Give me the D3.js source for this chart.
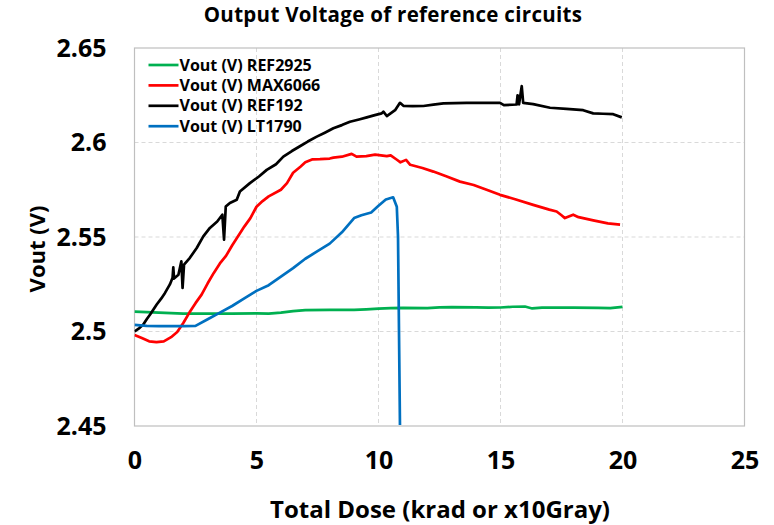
<!DOCTYPE html>
<html>
<head>
<meta charset="utf-8">
<script src="https://cdn.jsdelivr.net/npm/d3@7"></script>
<style>
  body { margin: 0; background: #fff; }
  svg text { font-family: "Open Sans", sans-serif; font-weight: bold; fill: #000; }
</style>
</head>
<body>
<div id="chart"></div>
<script>
// series names and colours, in legend order
const seriesNames = ["Vout (V) REF2925", "Vout (V) MAX6066", "Vout (V) REF192", "Vout (V) LT1790"];
const seriesColors = ["#00b050", "#ff0000", "#000000", "#0070c0"];

const xTicks = [0, 5, 10, 15, 20, 25];
const yTicks = [2.45, 2.5, 2.55, 2.6, 2.65];

// dose (krad) / voltage pairs
const ref2925Dose = [0, 0.5, 1, 1.5, 2, 3, 4, 5, 5.5, 6, 6.5, 7, 8, 9, 9.5, 10, 10.5, 11, 12, 12.5, 13, 14, 14.5, 15, 15.5, 16, 16.3, 16.7, 17.5, 18, 19, 19.5, 20];
const ref2925Vout = [2.5105, 2.5103, 2.5100, 2.5097, 2.5095, 2.5095, 2.5095, 2.5096, 2.5095, 2.5100, 2.5108, 2.5113, 2.5114, 2.5114, 2.5117, 2.5121, 2.5124, 2.5125, 2.5124, 2.5128, 2.5129, 2.5128, 2.5126, 2.5127, 2.5131, 2.5132, 2.5122, 2.5126, 2.5127, 2.5126, 2.5125, 2.5124, 2.5130];

const max6066Dose = [0, 0.3, 0.6, 0.9, 1.2, 1.5, 1.75, 2, 2.25, 2.5, 2.75, 3, 3.25, 3.5, 3.75, 4, 4.25, 4.5, 4.75, 5, 5.25, 5.5, 6, 6.25, 6.5, 6.8, 7, 7.3, 7.6, 8, 8.15, 8.5, 8.9, 9.1, 9.5, 9.86, 10.1, 10.34, 10.5, 10.74, 10.9, 11.13, 11.3, 11.8, 12.25, 12.8, 13.34, 13.9, 14.43, 14.98, 15.6, 16.34, 17, 17.3, 17.5, 17.64, 17.98, 18.2, 18.8, 19.4, 19.9];
const max6066Vout = [2.4981, 2.4965, 2.4948, 2.4944, 2.4948, 2.4970, 2.4997, 2.5045, 2.5100, 2.5150, 2.5195, 2.5255, 2.5310, 2.5360, 2.5400, 2.5455, 2.5505, 2.5555, 2.5600, 2.5660, 2.5690, 2.5715, 2.5750, 2.5785, 2.5840, 2.5872, 2.5895, 2.5911, 2.5912, 2.5915, 2.5920, 2.5925, 2.5940, 2.5925, 2.5928, 2.5936, 2.5932, 2.5928, 2.5932, 2.5910, 2.5895, 2.5908, 2.5882, 2.5865, 2.5846, 2.5820, 2.5793, 2.5775, 2.5750, 2.5723, 2.5700, 2.5670, 2.5645, 2.5635, 2.5615, 2.5600, 2.5618, 2.5605, 2.5588, 2.5572, 2.5565];

const ref192Dose = [0, 0.2, 0.36, 0.5, 0.64, 0.91, 1.1, 1.25, 1.45, 1.56, 1.59, 1.62, 1.8, 1.92, 1.97, 2.03, 2.27, 2.55, 2.82, 3.09, 3.39, 3.6, 3.67, 3.74, 3.91, 4.19, 4.32, 4.73, 5.1, 5.42, 5.8, 6.1, 6.45, 6.78, 7.1, 7.47, 7.8, 8.15, 8.5, 8.83, 9.2, 9.52, 9.85, 10.13, 10.2, 10.34, 10.68, 10.88, 11.02, 11.4, 11.84, 12.25, 12.66, 13.61, 14.3, 14.98, 15.14, 15.66, 15.7, 15.76, 15.87, 15.93, 16.34, 17.03, 17.7, 18.39, 18.8, 19.2, 19.62, 19.97];
const ref192Vout = [2.5000, 2.5018, 2.5037, 2.5065, 2.5090, 2.5143, 2.5175, 2.5204, 2.5249, 2.5284, 2.5340, 2.5280, 2.5300, 2.5371, 2.5231, 2.5354, 2.5390, 2.5442, 2.5503, 2.5548, 2.5582, 2.5618, 2.5486, 2.5661, 2.5680, 2.5697, 2.5741, 2.5785, 2.5820, 2.5855, 2.5885, 2.5925, 2.5955, 2.5980, 2.6005, 2.6031, 2.6052, 2.6075, 2.6092, 2.6110, 2.6122, 2.6133, 2.6145, 2.6154, 2.6163, 2.6140, 2.6171, 2.6210, 2.6194, 2.6192, 2.6193, 2.6200, 2.6207, 2.6210, 2.6210, 2.6210, 2.6198, 2.6201, 2.6250, 2.6202, 2.6298, 2.6210, 2.6203, 2.6184, 2.6178, 2.6171, 2.6154, 2.6152, 2.6150, 2.6133];

const lt1790Dose = [0, 0.5, 1, 1.5, 2, 2.5, 3, 3.5, 4, 4.5, 5, 5.5, 6, 6.5, 7, 7.5, 8, 8.5, 9, 9.3, 9.7, 10, 10.3, 10.6, 10.75, 10.8, 10.88];
const lt1790Vout = [2.5035, 2.5030, 2.5028, 2.5028, 2.5028, 2.5030, 2.5065, 2.5100, 2.5135, 2.5175, 2.5215, 2.5245, 2.5290, 2.5335, 2.5385, 2.5425, 2.5465, 2.5525, 2.5600, 2.5615, 2.5630, 2.5665, 2.5698, 2.5710, 2.5660, 2.5500, 2.4505];

const doses = [ref2925Dose, max6066Dose, ref192Dose, lt1790Dose];
const vouts = [ref2925Vout, max6066Vout, ref192Vout, lt1790Vout];

const W = 774, H = 525;
const margin = {top: 48, right: 29.5, bottom: 99, left: 134.5};
const width = W - margin.left - margin.right;
const height = H - margin.top - margin.bottom;

const svg = d3.select("#chart").append("svg")
    .attr("width", W)
    .attr("height", H);

const g = svg.append("g")
    .attr("transform", `translate(${margin.left},${margin.top})`);

const x = d3.scaleLinear().domain([0, 25]).range([0, width]);
const y = d3.scaleLinear().domain([2.45, 2.65]).range([height, 0]);

// grid lines
g.append("g").selectAll("line.vgrid")
    .data(xTicks.slice(1, -1))
    .enter().append("line")
    .attr("x1", d => x(d)).attr("x2", d => x(d))
    .attr("y1", 0).attr("y2", height)
    .attr("stroke", "#d9d9d9").attr("stroke-width", 1)
    .attr("stroke-dasharray", "4,3");

g.append("g").selectAll("line.hgrid")
    .data(yTicks.slice(1, -1))
    .enter().append("line")
    .attr("x1", 0).attr("x2", width)
    .attr("y1", d => y(d)).attr("y2", d => y(d))
    .attr("stroke", "#d9d9d9").attr("stroke-width", 1)
    .attr("stroke-dasharray", "4,3");

// plot border
g.append("rect")
    .attr("width", width).attr("height", height)
    .attr("fill", "none")
    .attr("stroke", "#bfbfbf").attr("stroke-width", 1.2);

// axes (labels only, no domain/ticks)
const xAxis = g.append("g")
    .attr("transform", `translate(0,${height})`)
    .call(d3.axisBottom(x).tickValues(xTicks).tickSize(0).tickPadding(25).tickFormat(d3.format("d")));
xAxis.select(".domain").remove();
xAxis.selectAll("text").style("font-size", "25px").style("font-family", null);

const yAxis = g.append("g")
    .call(d3.axisLeft(y).tickValues(yTicks).tickSize(0).tickPadding(28).tickFormat(d => d3.format("")(+d.toFixed(2))));
yAxis.select(".domain").remove();
yAxis.selectAll("text").style("font-size", "25px").style("font-family", null);

// clip so the dropping line stays inside
g.append("clipPath").attr("id", "plotClip")
    .append("rect").attr("width", width).attr("height", height);

const line = d3.line()
    .x(d => x(d[0]))
    .y(d => y(d[1]));

seriesNames.forEach((name, i) => {
    const pts = doses[i].map((d, j) => [d, vouts[i][j]]);
    g.append("path")
        .datum(pts)
        .attr("clip-path", "url(#plotClip)")
        .attr("fill", "none")
        .attr("stroke", seriesColors[i])
        .attr("stroke-width", 2.7)
        .attr("stroke-linejoin", "round")
        .attr("d", line);
});

// legend
const legend = g.append("g").attr("transform", "translate(14,17)");
seriesNames.forEach((name, i) => {
    const row = legend.append("g").attr("transform", `translate(0,${i * 20.4})`);
    row.append("line")
        .attr("x1", 0).attr("x2", 30)
        .attr("stroke", seriesColors[i]).attr("stroke-width", 2.7);
    row.append("text")
        .attr("x", 31).attr("y", 5.5)
        .style("font-size", "16px")
        .text(name);
});

// titles
svg.append("text")
    .attr("x", 393).attr("y", 22)
    .attr("text-anchor", "middle")
    .style("font-size", "20.5px")
    .style("letter-spacing", "0.3px")
    .text("Output Voltage of reference circuits");

svg.append("text")
    .attr("x", 440).attr("y", 518)
    .attr("text-anchor", "middle")
    .style("font-size", "24px")
    .text("Total Dose (krad or x10Gray)");

svg.append("text")
    .attr("transform", "translate(45,249) rotate(-90)")
    .attr("text-anchor", "middle")
    .style("font-size", "22px")
    .text("Vout (V)");
</script>
</body>
</html>
